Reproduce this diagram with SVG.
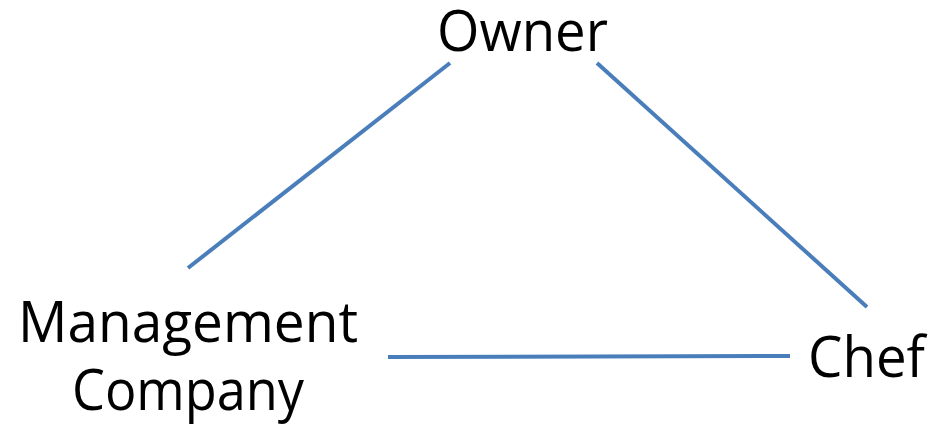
<svg xmlns="http://www.w3.org/2000/svg" width="934" height="428" viewBox="0 0 934 428">
<style>
.t{font-family:"Open Sans","Liberation Sans",sans-serif;font-size:56px;fill:#000}
.c{stroke:#4a7ebb;stroke-width:4;fill:none}
</style>
<rect width="934" height="428" fill="#fff"/>
<g id="connectors">
<line class="c" x1="450" y1="63" x2="188" y2="268"/>
<line class="c" x1="597" y1="63" x2="867" y2="307"/>
<line class="c" x1="388" y1="357" x2="790" y2="356"/>
</g>
<g id="owner"><text class="t" x="437" y="51" textLength="171" lengthAdjust="spacingAndGlyphs">Owner</text></g>
<g id="management"><text class="t" x="18" y="342" textLength="340" lengthAdjust="spacingAndGlyphs">Management</text>
<text class="t" x="72" y="410" textLength="232" lengthAdjust="spacingAndGlyphs">Company</text></g>
<g id="chef"><text class="t" x="808" y="377" textLength="117" lengthAdjust="spacingAndGlyphs">Chef</text></g>
</svg>
